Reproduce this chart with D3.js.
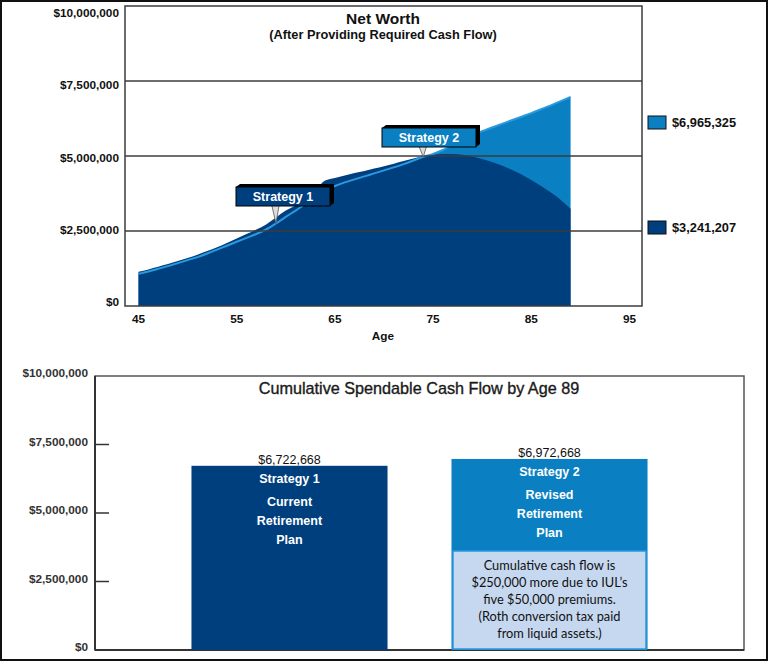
<!DOCTYPE html>
<html><head><meta charset="utf-8">
<script src="https://cdn.jsdelivr.net/npm/d3@7"></script>
<style>
html,body{margin:0;padding:0;background:#fff;}
svg{display:block;}
text{font-family:"Liberation Sans",Arial,sans-serif;}
</style></head>
<body>
<script>
// ---------- DATA ----------
const ages = [45,46,47,48,49,50,51,52,53,54,55,56,57,58,59,60,61,62,63,64,65,66,67,68,69,70,71,72,73,74,75,76,77,78,79,80,81,82,83,84,85,86,87,88,89];
const strategy1NetWorth = [1.14,1.22,1.31,1.40,1.50,1.60,1.71,1.83,1.96,2.10,2.25,2.40,2.55,2.72,2.95,3.18,3.35,3.52,3.85,4.18,4.27,4.35,4.43,4.50,4.58,4.66,4.74,4.83,4.92,4.99,5.04,5.07,5.07,5.04,4.98,4.90,4.80,4.68,4.54,4.38,4.20,4.00,3.78,3.53,3.241207].map(v=>v*1e6);
const strategy2NetWorth = [1.07,1.15,1.24,1.33,1.43,1.53,1.63,1.75,1.88,2.01,2.14,2.27,2.40,2.55,2.75,2.97,3.18,3.40,3.64,3.87,4.00,4.12,4.22,4.32,4.42,4.52,4.62,4.73,4.85,4.97,5.07,5.20,5.38,5.55,5.70,5.83,5.95,6.07,6.19,6.31,6.43,6.56,6.69,6.83,6.965325].map(v=>v*1e6);
const netWorthTicks = [0,2500000,5000000,7500000,10000000];
const ageTicks = [45,55,65,75,85,95];
const legendLabels = ["$6,965,325","$3,241,207"];

const barCategories = ["Strategy 1","Strategy 2"];
const barValues = [6722668,6972668];
const barValueLabels = ["$6,722,668","$6,972,668"];
const barInnerLines = [["Strategy 1","Current","Retirement","Plan"],["Strategy 2","Revised","Retirement","Plan"]];
const noteLines = ["Cumulative cash flow is","$250,000 more due to IUL\u2019s","five $50,000 premiums.","(Roth conversion tax paid","from liquid assets.)"];
const cashTicks = [0,2500000,5000000,7500000,10000000];

const DARK = "#003f7e", LIGHT = "#0a80c2", LINE2 = "#2a9ae0";
const fmt = d => "$" + d3.format(",")(d);

const svg = d3.select("body").append("svg").attr("width",769).attr("height",662);
svg.append("rect").attr("x",0).attr("y",0).attr("width",769).attr("height",662).attr("fill","#fff");

// ---------- TOP CHART ----------
const T = {l:125, r:642, t:6, b:306};
const x = d3.scaleLinear().domain([45,95]).range([138.5,629.5]);
const y = d3.scaleLinear().domain([0,10000000]).range([T.b,T.t]);
const yLab = d3.scaleLinear().domain([0,10000000]).range([302,13]);

const topG = svg.append("g");
const area = d3.area().x((d,i)=>x(ages[i])).y0(y(0)).curve(d3.curveMonotoneX);
topG.append("path").datum(strategy2NetWorth).attr("fill",LIGHT).attr("d",area.y1(d=>y(d)));
topG.append("path").datum(strategy1NetWorth).attr("fill",DARK).attr("d",area.y1(d=>y(d)));
topG.append("path").datum(strategy2NetWorth).attr("fill","none").attr("stroke",LINE2).attr("stroke-width",2)
  .attr("d",d3.line().x((d,i)=>x(ages[i])).y(d=>y(d)).curve(d3.curveMonotoneX));

topG.selectAll("line.grid").data(netWorthTicks.filter(d=>d>0 && d<10000000)).join("line")
  .attr("x1",T.l).attr("x2",T.r).attr("y1",d=>y(d)).attr("y2",d=>y(d))
  .attr("stroke","#3c3c3c").attr("stroke-width",1.5);
topG.append("rect").attr("x",T.l).attr("y",T.t).attr("width",T.r-T.l).attr("height",T.b-T.t)
  .attr("fill","none").attr("stroke","#3c3c3c").attr("stroke-width",1.5);

topG.selectAll("text.yl").data(netWorthTicks).join("text")
  .attr("x",119).attr("y",d=>yLab(d)).attr("dy","0.35em").attr("text-anchor","end")
  .attr("font-size",11.8).attr("font-weight","bold").attr("fill","#111").text(fmt);
topG.selectAll("text.xl").data(ageTicks).join("text")
  .attr("x",d=>x(d)).attr("y",319).attr("dy","0.35em").attr("text-anchor","middle")
  .attr("font-size",11.8).attr("font-weight","bold").attr("fill","#111").text(d=>d);
topG.append("text").attr("x",383).attr("y",336).attr("dy","0.35em").attr("text-anchor","middle")
  .attr("font-size",11.8).attr("font-weight","bold").attr("fill","#111").text("Age");
topG.append("text").attr("x",383).attr("y",19).attr("dy","0.35em").attr("text-anchor","middle")
  .attr("font-size",15.5).attr("font-weight","bold").attr("fill","#111").text("Net Worth");
topG.append("text").attr("x",383).attr("y",35).attr("dy","0.35em").attr("text-anchor","middle")
  .attr("font-size",12.8).attr("font-weight","bold").attr("fill","#111").text("(After Providing Required Cash Flow)");

const legColors = [LIGHT, DARK];
const legY = [122.5, 227.5];
legendLabels.forEach((t,i)=>{
  topG.append("rect").attr("x",648).attr("y",legY[i]-6.5).attr("width",18).attr("height",13)
    .attr("fill",legColors[i]).attr("stroke","#111").attr("stroke-width",1);
  topG.append("text").attr("x",672).attr("y",legY[i]).attr("dy","0.35em")
    .attr("font-size",12.8).attr("font-weight","bold").attr("fill","#111").text(t);
});

function callout(bx, by, label, fill, age, series){
  const w=94, h=19;
  const px = x(age), py = y(series[ages.indexOf(age)]);
  const g = topG.append("g");
  g.append("path").attr("d",`M${px-4},${by+h} L${px},${py} L${px+3},${by+h}`)
    .attr("fill","#ddd").attr("stroke","#555").attr("stroke-width",0.8);
  g.append("path").attr("d",`M${bx},${by} L${bx+4},${by-3} L${bx+w+4},${by-3} L${bx+w+4},${by+h-3} L${bx+w},${by+h} Z`).attr("fill","#000");
  g.append("rect").attr("x",bx).attr("y",by).attr("width",w).attr("height",h)
    .attr("fill",fill).attr("stroke","#000").attr("stroke-width",1);
  g.append("text").attr("x",bx+w/2).attr("y",by+h/2).attr("dy","0.36em").attr("text-anchor","middle")
    .attr("font-size",12.5).attr("font-weight","bold").attr("fill","#fff").text(label);
}
callout(236,187,"Strategy 1",DARK,59,strategy2NetWorth);
callout(382,128,"Strategy 2",LIGHT,74,strategy2NetWorth);

// ---------- BOTTOM CHART ----------
const B = {l:95, r:744, t:376, b:650};
const yb = d3.scaleLinear().domain([0,10000000]).range([B.b,B.t]);
const xb = d3.scaleBand().domain(barCategories).range([B.l,B.r]).paddingInner(0.246).paddingOuter(0.371);
const bot = svg.append("g");

bot.append("rect").attr("x",B.l).attr("y",B.t).attr("width",B.r-B.l).attr("height",B.b-B.t)
  .attr("fill","none").attr("stroke","#555").attr("stroke-width",1.5);
bot.append("line").attr("x1",B.l).attr("x2",B.l).attr("y1",B.t).attr("y2",B.b).attr("stroke","#333").attr("stroke-width",2);
bot.append("line").attr("x1",B.l).attr("x2",B.r).attr("y1",B.b).attr("y2",B.b).attr("stroke","#333").attr("stroke-width",2);
bot.selectAll("line.tk").data(cashTicks.filter(d=>d>0&&d<10000000)).join("line")
  .attr("x1",B.l).attr("x2",B.l+14).attr("y1",d=>yb(d)).attr("y2",d=>yb(d)).attr("stroke","#333").attr("stroke-width",1.5);
bot.selectAll("text.yl").data(cashTicks).join("text")
  .attr("x",88).attr("y",d=>yb(d)-3).attr("dy","0.35em").attr("text-anchor","end")
  .attr("font-size",11.8).attr("font-weight","bold").attr("fill","#333").text(fmt);

bot.append("text").attr("x",419).attr("y",388).attr("dy","0.35em").attr("text-anchor","middle")
  .attr("font-size",16.2).attr("fill","#1a1a1a").attr("stroke","#1a1a1a").attr("stroke-width",0.35)
  .text("Cumulative Spendable Cash Flow by Age 89");

const barColors = [DARK, LIGHT];
const innerOffsets = [12.5, 35.5, 54.8, 73.5];
barCategories.forEach((c,i)=>{
  const bx = xb(c), bw = xb.bandwidth(), by = yb(barValues[i]);
  bot.append("rect").attr("x",bx).attr("y",by).attr("width",bw).attr("height",yb(0)-by).attr("fill",barColors[i]);
  bot.append("text").attr("x",bx+bw/2).attr("y",by-1.5).attr("text-anchor","middle")
    .attr("font-size",12.5).attr("fill","#111").text(barValueLabels[i]);
  barInnerLines[i].forEach((t,j)=>{
    bot.append("text").attr("x",bx+bw/2).attr("y",by+innerOffsets[j]).attr("dy","0.35em").attr("text-anchor","middle")
      .attr("font-size",12.5).attr("font-weight","bold").attr("fill","#fff").text(t);
  });
});
const nx = xb("Strategy 2")+1.5, nw = xb.bandwidth()-3;
bot.append("rect").attr("x",nx).attr("y",551).attr("width",nw).attr("height",B.b-551-1)
  .attr("fill","#c6d8f0").attr("stroke","#2a96de").attr("stroke-width",1.5);
noteLines.forEach((t,j)=>{
  bot.append("text").attr("x",nx+nw/2).attr("y",566+j*16.8).attr("dy","0.35em").attr("text-anchor","middle")
    .attr("font-size",12.8).attr("fill","#111").style("font-family","Lato, 'Noto Sans', sans-serif").text(t);
});

svg.append("rect").attr("x",1).attr("y",1).attr("width",766).attr("height",659).attr("fill","none").attr("stroke","#111").attr("stroke-width",2);
</script>
</body></html>
